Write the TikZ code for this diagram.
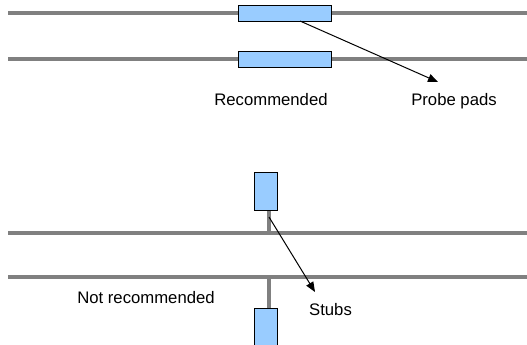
\documentclass[tikz,border=0pt]{standalone}
\usepackage{fontspec}
\setmainfont{Liberation Sans}
\usetikzlibrary{arrows.meta}
\begin{document}
\begin{tikzpicture}[x=1pt,y=-1pt,
  trace/.style={draw=black!50,line width=4pt},
  pad/.style={draw=black,line width=0.7pt,inner sep=0pt,outer sep=0pt},
  lbl/.style={font=\fontsize{16.7}{19}\selectfont,inner sep=0pt,anchor=base},
  ptr/.style={draw=black,line width=1pt,-{Triangle[length=10pt,width=8pt]}}]
\useasboundingbox (0,0) rectangle (527,345);
\definecolor{padblue}{HTML}{99CCFF}
% top traces
\coordinate (t1a) at (8,13); \coordinate (t1b) at (527,13);
\coordinate (t2a) at (8,59); \coordinate (t2b) at (527,59);
\draw[trace] (t1a) -- (t1b);
\draw[trace] (t2a) -- (t2b);
\node[pad,fill=padblue,minimum width=93pt,minimum height=16pt] (p1) at (284.5,13) {};
\node[pad,fill=padblue,minimum width=93pt,minimum height=16pt] (p2) at (284.5,59) {};
\node[lbl] (rec) at (271,105.3) {Recommended};
\node[lbl] (probe) at (454,105.3) {Probe pads};
\coordinate (a1s) at (300,21);
\coordinate (a1e) at (438,82);
\draw[ptr] (a1s) -- (a1e);
% bottom traces
\coordinate (b1a) at (8,233); \coordinate (b1b) at (527,233);
\coordinate (b2a) at (8,277); \coordinate (b2b) at (527,277);
\draw[trace] (b1a) -- (b1b);
\draw[trace] (b2a) -- (b2b);
\coordinate (s1t) at (268.5,209); \coordinate (s1b) at (268.5,233);
\coordinate (s2t) at (268.5,277); \coordinate (s2b) at (268.5,309);
\draw[trace] (s1t) -- (s1b);
\draw[trace] (s2t) -- (s2b);
\node[pad,fill=padblue,minimum width=23pt,minimum height=38pt] (q1) at (265.5,191) {};
\node[pad,fill=padblue,minimum width=23pt,minimum height=40pt] (q2) at (265.5,328) {};
\node[lbl] (notrec) at (146,303.5) {Not recommended};
\node[lbl] (stubs) at (330.5,315) {Stubs};
\coordinate (a2s) at (269,217);
\coordinate (a2e) at (315,292);
\draw[ptr] (a2s) -- (a2e);
\end{tikzpicture}
\end{document}
